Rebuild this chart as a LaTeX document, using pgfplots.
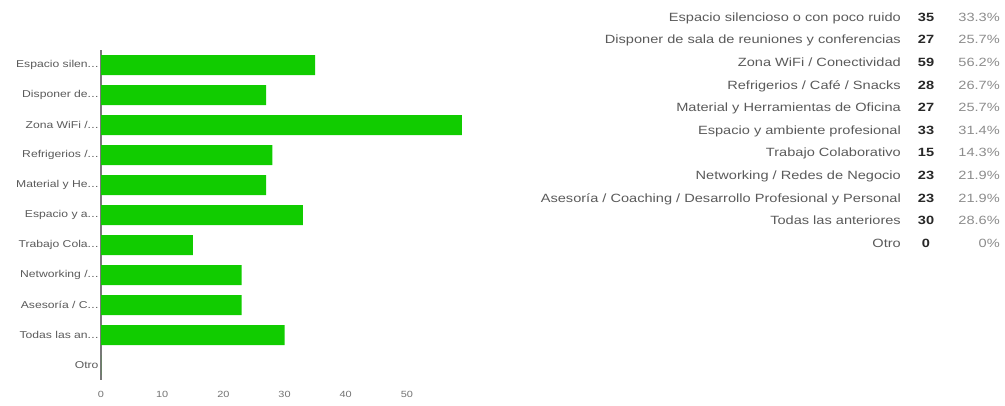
\documentclass[border=0pt]{standalone}
\usepackage{pgfplots}
\pgfplotsset{compat=1.18}
\usepackage{fontspec}
\setmainfont{Liberation Sans}
\newfontfamily\wide[FakeStretch=1.22]{Liberation Sans}
\definecolor{bargreen}{RGB}{17,204,0}
\definecolor{labgray}{RGB}{90,90,90}
\definecolor{tickgray}{RGB}{115,115,115}
\definecolor{axgray}{RGB}{120,120,120}
\definecolor{numdark}{RGB}{40,40,40}
\definecolor{pctgray}{RGB}{140,140,140}
\newcommand{\dd}{.\kern0.3pt.\kern0.3pt.}
\begin{document}
\begin{tikzpicture}[x=1bp,y=1bp]
\useasboundingbox (0,0) rectangle (1005,405);
\begin{axis}[
  at={(101bp,25bp)}, anchor=south west,
  scale only axis, width=367bp, height=330bp,
  xbar, bar width=20bp,
  xmin=0, xmax=60, ymin=-0.5, ymax=10.5, y dir=reverse,
  axis lines*=left,
  x axis line style={draw=none},
  y axis line style={-, draw=axgray, line width=1.2bp},
  major tick length=0pt,
  xtick={0,10,20,30,40,50},
  ytick={0,1,2,3,4,5,6,7,8,9,10},
  yticklabels={{Espacio silen\dd},{Disponer de\dd},{Zona WiFi /\dd},{Refrigerios /\dd},{Material y He\dd},{Espacio y a\dd},{Trabajo Cola\dd},{Networking /\dd},{Asesoría / C\dd},{Todas las an\dd},{Otro}},
  yticklabel style={font=\wide\fontsize{10}{12}\selectfont, text=labgray, xshift=1bp},
  xticklabel style={font=\wide\fontsize{9}{11}\selectfont, text=tickgray, yshift=-8bp},
  /pgf/number format/assume math mode=true,
  clip=false,
]
\addplot[fill=bargreen, draw=none] coordinates {(35,0) (27,1) (59,2) (28,3) (27,4) (33,5) (15,6) (23,7) (23,8) (30,9) (0,10)};
\end{axis}
\foreach \lab/\n/\p [count=\i from 0] in {
  {Espacio silencioso o con poco ruido}/35/{33.3\%},
  {Disponer de sala de reuniones y conferencias}/27/{25.7\%},
  {Zona WiFi / Conectividad}/59/{56.2\%},
  {Refrigerios / Café / Snacks}/28/{26.7\%},
  {Material y Herramientas de Oficina}/27/{25.7\%},
  {Espacio y ambiente profesional}/33/{31.4\%},
  {Trabajo Colaborativo}/15/{14.3\%},
  {Networking / Redes de Negocio}/23/{21.9\%},
  {Asesoría / Coaching / Desarrollo Profesional y Personal}/23/{21.9\%},
  {Todas las anteriores}/30/{28.6\%},
  {Otro}/0/{0\%}}
{
  \pgfmathsetmacro{\yy}{405-17-4.3-22.6*\i}
  \node[anchor=base east, inner sep=0pt, text=labgray, font=\wide\fontsize{12}{14}\selectfont] at (901,\yy) {\lab};
  \node[anchor=base, inner sep=0pt, text=numdark, font=\wide\fontsize{12}{14}\selectfont\bfseries] at (926,\yy) {\n};
  \node[anchor=base east, inner sep=0pt, text=pctgray, font=\wide\fontsize{12}{14}\selectfont] at (1000,\yy) {\p};
}
\end{tikzpicture}
\end{document}
